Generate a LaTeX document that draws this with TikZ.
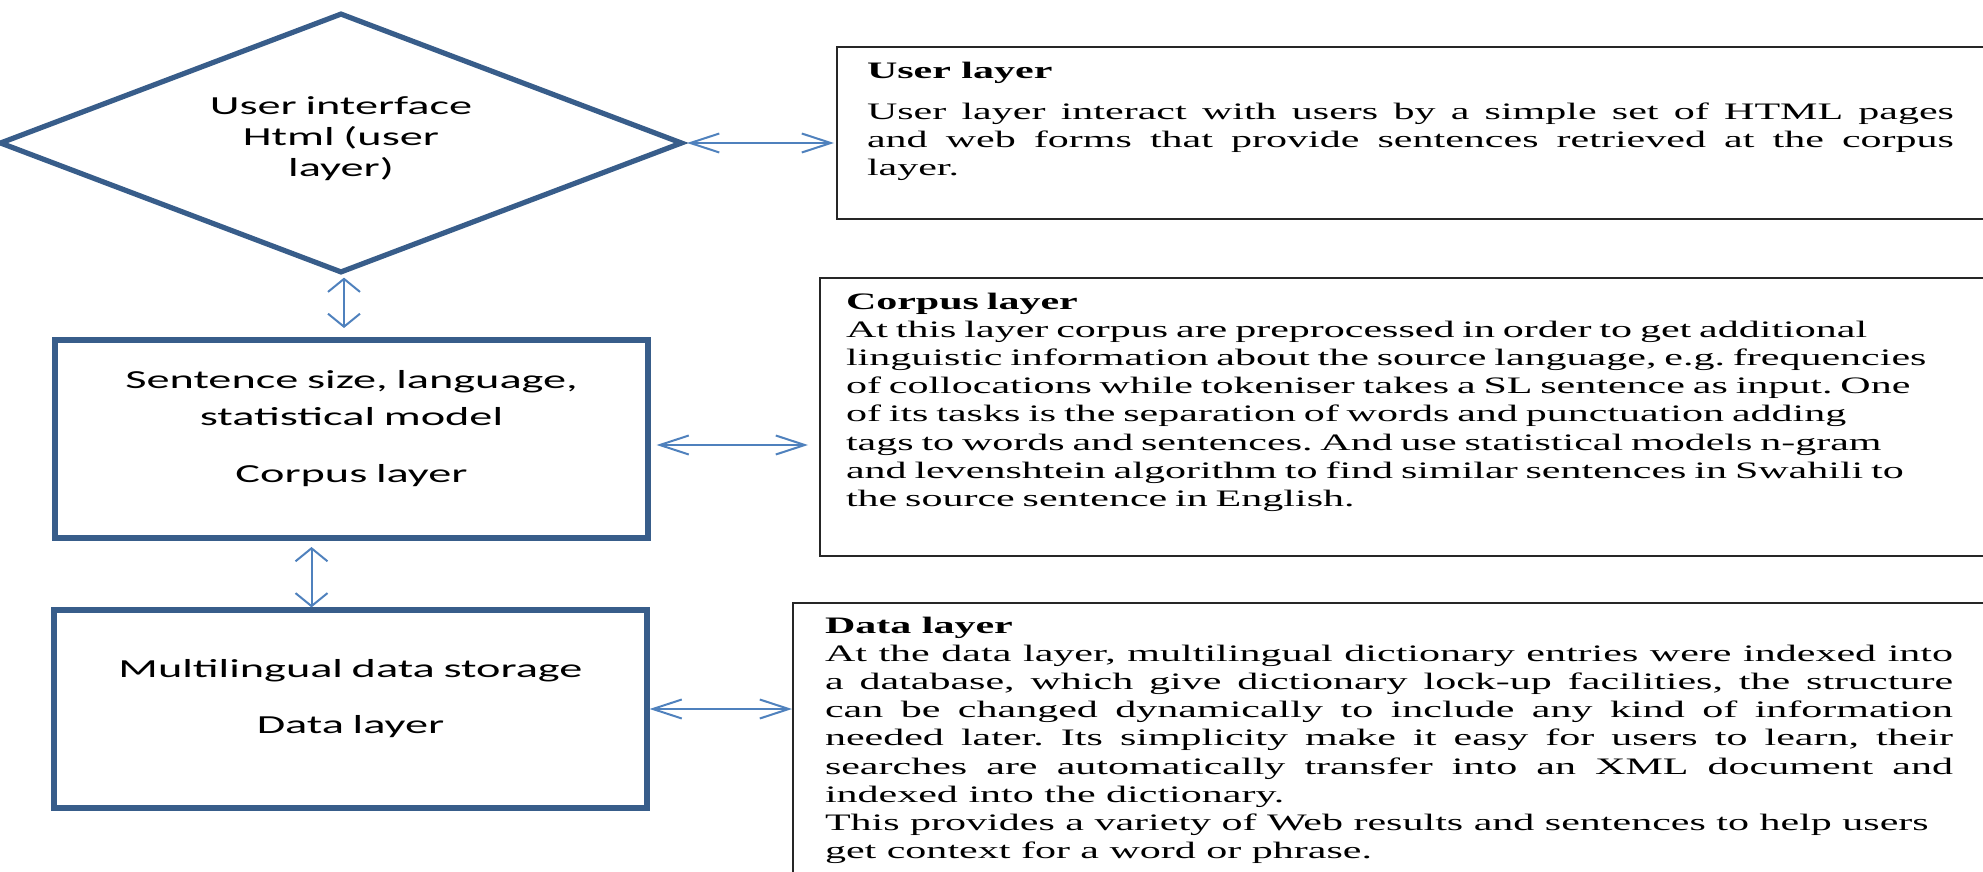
\documentclass[tikz,border=0pt]{standalone}
\usepackage{fontspec}
\usetikzlibrary{shapes.geometric,arrows.meta}
\newfontfamily\boxfont[FakeStretch=1.78]{Carlito}
\newfontfamily\notefont[FakeStretch=1.78]{Liberation Serif}
\definecolor{layerblue}{HTML}{385D8A}
\definecolor{linkblue}{HTML}{4F81BD}
\tikzset{
	layer/.style={draw=layerblue,line width=2.6pt,inner sep=0pt,text width=280pt,align=center,
		font=\boxfont\fontsize{13}{18.5}\selectfont,text height=9pt},
	note/.style={draw=black!85,line width=1pt,anchor=north west,text height=9pt,
		font=\notefont\fontsize{11.8}{14.1}\selectfont\frenchspacing},
	link/.style={<->,draw=linkblue,line width=1pt},
	hlink/.style={link,>={Straight Barb[length=14.5pt,width=9.5pt]}},
	vlink/.style={link,>={Straight Barb[length=6.5pt,width=16pt]}},
}
\begin{document}
\begin{tikzpicture}[x=0.5pt,y=-0.5pt]
				\useasboundingbox (0,0) rectangle (1983,872);
				\clip (0,0) rectangle (1983,872);
				% left column
				\node[layer,diamond,aspect=2.6,minimum width=341.5pt,minimum height=130pt,text width=150pt,
					font=\boxfont\fontsize{13}{15.5}\selectfont,text depth=37pt] (ui) at (341,143)
					{User interface\\Html (user\\layer)};
				\node[layer,minimum width=296.5pt,minimum height=99pt,text depth=59.5pt] (corpus) at (351.5,439)
					{Sentence size, language,\\statistical model\\[10pt]Corpus layer};
				\node[layer,minimum width=296.5pt,minimum height=99pt,text depth=41pt] (storage) at (350.5,709)
					{Multilingual data storage\\[9.5pt]Data layer};
				% right column
				\node[note,text width=543.5pt,inner xsep=15pt,inner ysep=7pt,text depth=63pt,align=justify] (userlayer) at (836,46)
					{\textbf{User layer}\par\vspace{6pt}User layer interact with users by a simple set of HTML pages\linebreak
					and web forms that provide sentences retrieved at the corpus\linebreak layer.};
				\node[note,text width=556pt,inner xsep=13pt,inner ysep=6.5pt,text depth=117pt,align=left] (corpustext) at (819,277)
					{\textbf{Corpus layer}\\
					At this layer corpus are preprocessed  in order to get additional\\
					linguistic information about the source language, e.g. frequencies\\
					of collocations while tokeniser takes a SL sentence  as input. One\\
					of its tasks is the separation  of words and punctuation  adding\\
					tags to words and sentences.  And use statistical  models n-gram\\
					and levenshtein  algorithm to find similar sentences in Swahili to\\
					the source  sentence in English.};
				\node[note,text width=564pt,inner xsep=16pt,inner ysep=6pt,text depth=129pt,align=justify] (datatext) at (792,602)
					{\textbf{Data layer}\par
					At the data layer, multilingual dictionary entries were indexed into\linebreak
					a database, which give dictionary lock-up facilities, the structure\linebreak
					can be changed dynamically to include any kind of information\linebreak
					needed later. Its simplicity make it easy for users to learn, their\linebreak
					searches are automatically transfer into an XML document and\linebreak
					indexed into the dictionary.\par
					This provides a variety of Web results and sentences to help users\newline
					get context for a word or phrase.};
				% links
				\draw[hlink,shorten <=1pt,shorten >=1pt] (ui.east) -- (ui.east -| userlayer.west);
				\draw[hlink,shorten <=3pt,shorten >=5.5pt] ([yshift=-3pt]corpus.east) -- ([yshift=-3pt]corpus.east -| corpustext.west);
				\draw[hlink] (storage.east) -- (storage.east -| datatext.west);
				\draw[vlink,shorten <=1pt,shorten >=4.7pt] ([xshift=1.5pt]ui.south) -- ([xshift=1.5pt]ui.south |- corpus.north);
				\draw[vlink,shorten <=3.2pt] ([xshift=-20pt]corpus.south) -- ([xshift=-20pt]corpus.south |- storage.north);
\end{tikzpicture}
\end{document}
